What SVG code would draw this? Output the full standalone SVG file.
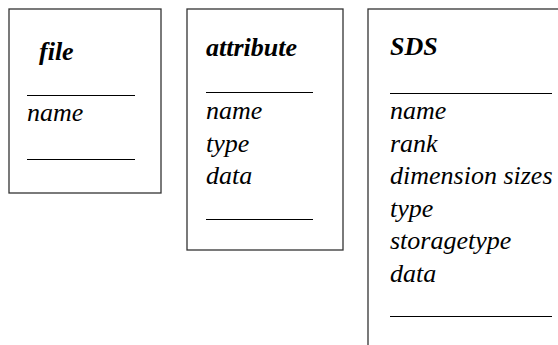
<svg xmlns="http://www.w3.org/2000/svg" width="558" height="345" viewBox="0 0 558 345">
<style>
.box{fill:#fff;stroke:#333;stroke-width:1.3}
.sep{stroke:#000;stroke-width:1}
.t{font-family:'Liberation Serif',serif !important;font-style:italic;font-size:26px;fill:#000}
.h{font-weight:bold}
</style>
<rect width="558" height="345" fill="#fff"/>
<g id="file">
<rect class="box" x="9" y="9" width="152" height="184"/>
<text class="t h" x="39" y="60">file</text>
<line class="sep" x1="27" y1="95.5" x2="135" y2="95.5"/>
<text class="t" x="27" y="121">name</text>
<line class="sep" x1="27" y1="159.5" x2="135" y2="159.5"/>
</g>
<g id="attribute">
<rect class="box" x="187" y="9" width="156" height="241"/>
<text class="t h" x="206" y="56">attribute</text>
<line class="sep" x1="206" y1="92.5" x2="313" y2="92.5"/>
<text class="t" x="206" y="119">name</text>
<text class="t" x="206" y="151.5">type</text>
<text class="t" x="206" y="184">data</text>
<line class="sep" x1="206" y1="219.5" x2="313" y2="219.5"/>
</g>
<g id="SDS">
<rect class="box" x="368" y="9" width="200" height="350"/>
<text class="t h" x="390" y="55">SDS</text>
<line class="sep" x1="390" y1="93.5" x2="552" y2="93.5"/>
<text class="t" x="390" y="119">name</text>
<text class="t" x="390" y="151.5">rank</text>
<text class="t" x="390" y="184">dimension sizes</text>
<text class="t" x="390" y="216.5">type</text>
<text class="t" x="390" y="249">storagetype</text>
<text class="t" x="390" y="281.5">data</text>
<line class="sep" x1="390" y1="316.5" x2="552" y2="316.5"/>
</g>
<g id="connectors"/>
</svg>
